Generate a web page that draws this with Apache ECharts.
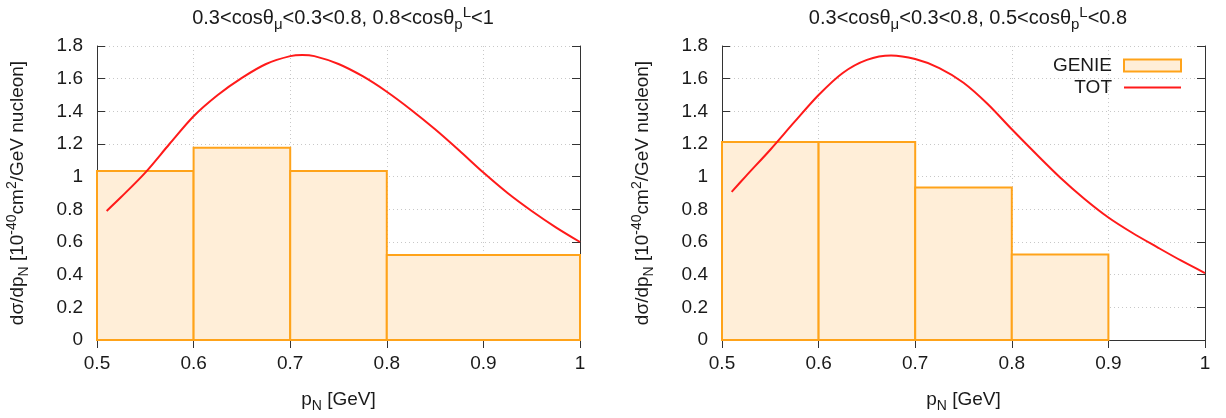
<!DOCTYPE html>
<html>
<head>
<meta charset="utf-8">
<script src="https://cdn.jsdelivr.net/npm/echarts@6/dist/echarts.min.js"></script>
<style>
html, body { margin: 0; padding: 0; background: #fff; }
#main { width: 1226px; height: 418px; }
</style>
</head>
<body>
<div id="main"></div>
<script>
// left panel: 0.8<cos(theta_p^L)<1
var binsA = [[0.5, 0.6], [0.6, 0.7], [0.7, 0.8], [0.8, 1.0]];
var genieA = [1.035, 1.177, 1.035, 0.52];
var totXA = [0.51, 0.525, 0.55, 0.575, 0.6, 0.625, 0.65, 0.675, 0.7, 0.7125, 0.725, 0.75, 0.775, 0.8, 0.825, 0.85, 0.875, 0.9, 0.925, 0.95, 0.975, 1.0];
var totYA = [0.79, 0.875, 1.025, 1.20, 1.37, 1.50, 1.605, 1.69, 1.738, 1.745, 1.738, 1.69, 1.615, 1.52, 1.41, 1.29, 1.16, 1.025, 0.90, 0.79, 0.69, 0.60];

// right panel: 0.5<cos(theta_p^L)<0.8
var binsB = [[0.5, 0.6], [0.6, 0.7], [0.7, 0.8], [0.8, 0.9]];
var genieB = [1.213, 1.213, 0.933, 0.524];
var totXB = [0.51, 0.525, 0.55, 0.575, 0.6, 0.625, 0.65, 0.675, 0.7, 0.725, 0.75, 0.775, 0.8, 0.825, 0.85, 0.875, 0.9, 0.925, 0.95, 0.975, 1.0];
var totYB = [0.907, 1.005, 1.165, 1.335, 1.50, 1.635, 1.715, 1.742, 1.72, 1.665, 1.575, 1.445, 1.29, 1.14, 0.995, 0.865, 0.75, 0.655, 0.57, 0.487, 0.41];

var FONT = 'Liberation Sans';
var TXT = '#1a1a1a';
var fillC = '#ffeed8', edgeC = '#ffa31a', totC = '#ff1a1a';

function histData(bins, vals) {
  return bins.map(function (b, i) { return [b[0], b[1], vals[i]]; });
}
function pairs(xs, ys) {
  return xs.map(function (x, i) { return [x, ys[i]]; });
}
function histItem(params, api) {
  var p0 = api.coord([api.value(0), api.value(2)]);
  var p1 = api.coord([api.value(1), 0]);
  return {
    type: 'rect',
    shape: { x: p0[0], y: p0[1], width: p1[0] - p0[0], height: p1[1] - p0[1] },
    style: { fill: fillC, stroke: edgeC, lineWidth: 2 }
  };
}
function tickFmt(v) { return String(Math.round(v * 10) / 10); }

var richT = {
  b: { fontSize: 19, fontFamily: FONT, fontWeight: 'normal', color: TXT, lineHeight: 26, verticalAlign: 'middle' },
  s: { fontSize: 14, fontFamily: FONT, fontWeight: 'normal', color: TXT, lineHeight: 17, verticalAlign: 'bottom' },
  u: { fontSize: 14, fontFamily: FONT, fontWeight: 'normal', color: TXT, lineHeight: 17, verticalAlign: 'top' }
};
var richTitle = {
  b: { fontSize: 20, fontFamily: FONT, fontWeight: 'normal', color: TXT, lineHeight: 27, verticalAlign: 'middle' },
  s: { fontSize: 15, fontFamily: FONT, fontWeight: 'normal', color: TXT, lineHeight: 18, verticalAlign: 'bottom' },
  u: { fontSize: 15, fontFamily: FONT, fontWeight: 'normal', color: TXT, lineHeight: 18, verticalAlign: 'top' }
};
var yName = '{b|dσ/dp}{s|N}{b| [10}{u|-40}{b|cm}{u|2}{b|/GeV nucleon]}';
var xName = '{b|p}{s|N}{b| [GeV]}';

var grids = [
  { left: 97, right: 646, top: 46, bottom: 76 },
  { left: 722, right: 21, top: 46, bottom: 76 }
];

var xAxes = [], yAxes = [];
[0, 1].forEach(function (g) {
  xAxes.push({
    type: 'value', gridIndex: g, min: 0.5, max: 1, interval: 0.1, position: 'bottom',
    name: xName, nameLocation: 'middle', nameGap: 47,
    nameTextStyle: { rich: richT },
    axisLine: { show: true, lineStyle: { color: '#333', width: 1 } },
    axisTick: { show: true, inside: true, length: 8, lineStyle: { color: '#333' } },
    axisLabel: { fontSize: 19, fontFamily: FONT, color: TXT, margin: 14, formatter: tickFmt },
    splitLine: { show: true, lineStyle: { color: '#c8c8c8', type: [1, 3] } }
  });
  xAxes.push({
    type: 'value', gridIndex: g, min: 0.5, max: 1, interval: 0.1, position: 'top',
    axisLine: { show: true, lineStyle: { color: '#333', width: 1 } },
    axisTick: { show: true, inside: true, length: 8, lineStyle: { color: '#333' } },
    axisLabel: { show: false }, splitLine: { show: false }
  });
  yAxes.push({
    type: 'value', gridIndex: g, min: 0, max: 1.8, interval: 0.2, position: 'left',
    name: yName, nameLocation: 'middle', nameGap: 66, nameRotate: 90,
    nameTextStyle: { rich: richT },
    axisLine: { show: true, lineStyle: { color: '#333', width: 1 } },
    axisTick: { show: true, inside: true, length: 8, lineStyle: { color: '#333' } },
    axisLabel: { fontSize: 19, fontFamily: FONT, color: TXT, margin: 14, formatter: tickFmt },
    splitLine: { show: true, lineStyle: { color: '#c8c8c8', type: [1, 3] } }
  });
  yAxes.push({
    type: 'value', gridIndex: g, min: 0, max: 1.8, interval: 0.2, position: 'right',
    axisLine: { show: true, lineStyle: { color: '#333', width: 1 } },
    axisTick: { show: true, inside: true, length: 8, lineStyle: { color: '#333' } },
    axisLabel: { show: false }, splitLine: { show: false }
  });
});

var myChart = echarts.init(document.getElementById('main'));
var option = {
  animation: false,
  backgroundColor: '#fff',
  title: [
    { left: 338, top: 0, textAlign: 'center',
      text: '{b|0.3<cosθ}{s|μ}{b|<0.3<0.8, 0.8<cosθ}{s|p}{u|L}{b|<1}',
      textStyle: { fontWeight: 'normal', rich: richTitle } },
    { left: 963, top: 0, textAlign: 'center',
      text: '{b|0.3<cosθ}{s|μ}{b|<0.3<0.8, 0.5<cosθ}{s|p}{u|L}{b|<0.8}',
      textStyle: { fontWeight: 'normal', rich: richTitle } }
  ],
  legend: {
    orient: 'vertical', right: 44, top: 56, align: 'right', padding: 0,
    itemWidth: 57, itemHeight: 12, itemGap: 3,
    textStyle: { fontSize: 19, fontFamily: FONT, color: TXT, padding: [0, 7, 0, 0] },
    data: [
      { name: 'GENIE', icon: 'rect', itemStyle: { color: fillC, borderColor: edgeC, borderWidth: 2 } },
      { name: 'TOT', icon: 'path://M0,5 L57,5 L57,7 L0,7 Z', itemStyle: { color: totC } }
    ]
  },
  grid: grids,
  xAxis: xAxes,
  yAxis: yAxes,
  series: [
    { name: 'GENIE', type: 'custom', xAxisIndex: 0, yAxisIndex: 0,
      renderItem: histItem, encode: { x: [0, 1], y: 2 },
      itemStyle: { color: fillC }, data: histData(binsA, genieA), z: 2 },
    { name: 'TOT', type: 'line', xAxisIndex: 0, yAxisIndex: 0, smooth: 0.3,
      symbol: 'none', lineStyle: { color: totC, width: 2 }, itemStyle: { color: totC },
      data: pairs(totXA, totYA), z: 3 },
    { name: 'GENIE', type: 'custom', xAxisIndex: 2, yAxisIndex: 2,
      renderItem: histItem, encode: { x: [0, 1], y: 2 },
      itemStyle: { color: fillC }, data: histData(binsB, genieB), z: 2 },
    { name: 'TOT', type: 'line', xAxisIndex: 2, yAxisIndex: 2, smooth: 0.3,
      symbol: 'none', lineStyle: { color: totC, width: 2 }, itemStyle: { color: totC },
      data: pairs(totXB, totYB), z: 3 }
  ]
};
myChart.setOption(option, true);
</script>
</body>
</html>
